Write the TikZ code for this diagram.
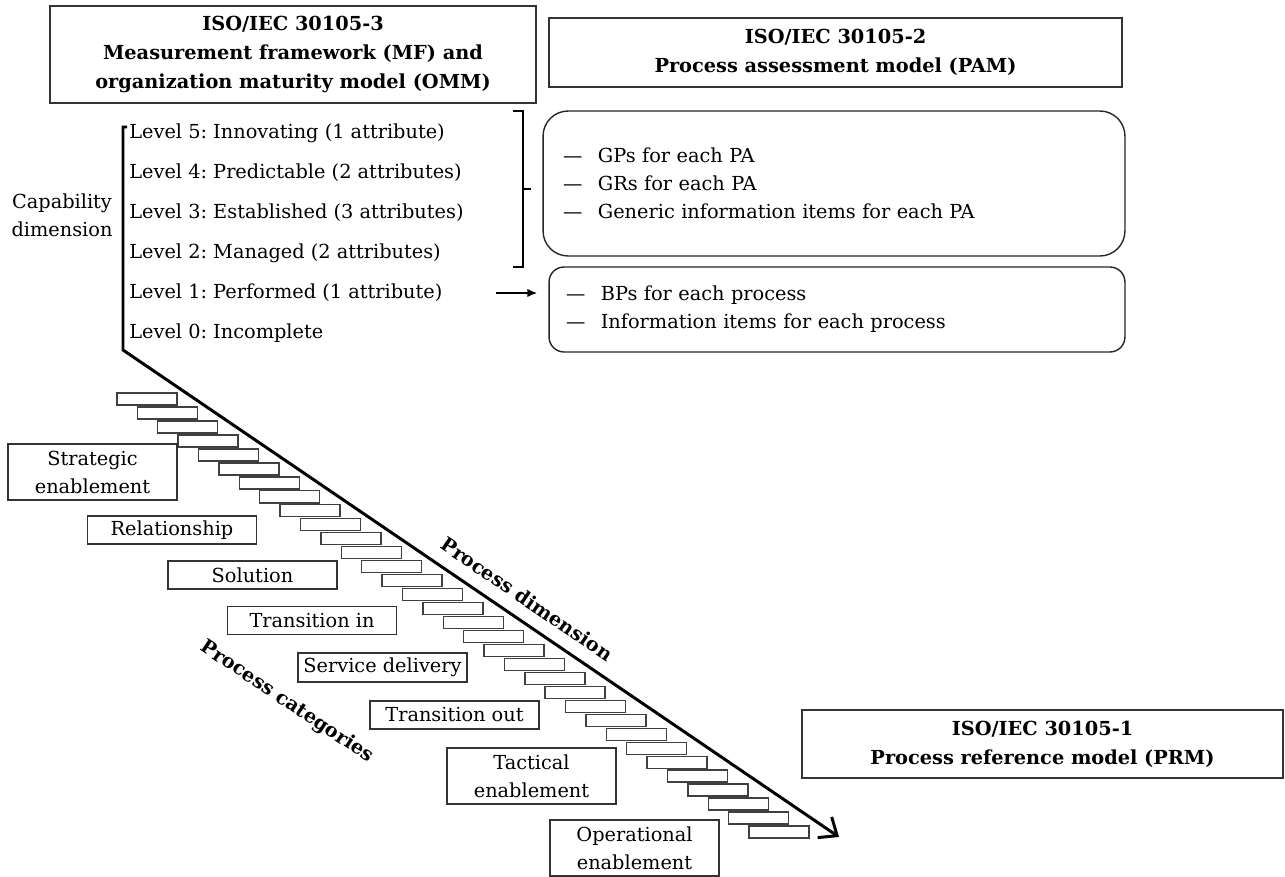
\documentclass[tikz,border=0pt]{standalone}
\usepackage{fontspec}
\setmainfont{DejaVu Serif}
\usetikzlibrary{arrows.meta}
\frenchspacing

\newcommand{\txtsize}{\fontsize{11}{15.9}\selectfont}
\newcommand{\ttlsize}{\fontsize{11}{16.7}\selectfont\bfseries}

\begin{document}
\begin{tikzpicture}[x = 0.02cm, y = -0.02cm,
	stdbox/.style = {draw=black!80, line width=0.8pt, inner sep=0pt, align=center, font=\ttlsize},
	pambox/.style = {draw=black!85, line width=0.8pt, inner ysep=0pt, align=left, font=\txtsize},
	catbox/.style = {draw=black!80, line width=0.8pt, inner sep=0pt, minimum width=3.38cm, align=center, font=\txtsize},
	lvl/.style = {anchor=west, inner sep=0pt, font=\txtsize},
	stair/.style = {draw=black!75, line width=0.8pt},
	axisline/.style = {line width=1.7pt},
	brk/.style = {line width=0.9pt}]
	\useasboundingbox (0,0) rectangle (1285,876);
	
	% standards
	\node[stdbox, minimum width=9.72cm, minimum height=1.94cm] (omm) at (293,54.5) {ISO/IEC 30105-3\\Measurement framework (MF) and\\organization maturity model (OMM)};
	\node[stdbox, minimum width=11.46cm, minimum height=1.38cm] (pam) at (835.5,52.5) {ISO/IEC 30105-2\\Process assessment model (PAM)};
	\node[stdbox, minimum width=9.62cm, minimum height=1.36cm] (prm) at (1042.5,744) {ISO/IEC 30105-1\\Process reference model (PRM)};
	
	% indicators
	\node[pambox, rounded corners=0.5cm, minimum height=2.9cm, inner xsep=0.4cm, text width=10.84cm] (generic) at (834,183.5)
		{\textemdash\hspace{0.8em}GPs for each PA\\\textemdash\hspace{0.8em}GRs for each PA\\\textemdash\hspace{0.8em}Generic information items for each PA};
	\node[pambox, rounded corners=0.3cm, minimum height=1.7cm, inner xsep=0.34cm, text width=10.84cm] (base) at (837,309.5)
		{\textemdash\hspace{0.8em}BPs for each process\\\textemdash\hspace{0.8em}Information items for each process};
	
	% capability levels
	\node[font=\txtsize, align=center, inner sep=0pt] (capdim) at (62,215) {Capability\\dimension};
	\foreach \lv/\txt [count=\i from 0] in {5/Innovating (1 attribute), 4/Predictable (2 attributes), 3/Established (3 attributes), 2/Managed (2 attributes), 1/Performed (1 attribute), 0/Incomplete}{
		\node[lvl] (lvl\lv) at (129,133+40*\i) {Level \lv: \txt};
	}
	
	% axes
	\coordinate (capend) at (127,127);
	\coordinate (captop) at (123,127);
	\coordinate (capbot) at (123,350);
	\coordinate (proctip) at (839,837);
	\draw[axisline, -{Straight Barb[length=0.3cm, width=0.5cm, line width=1.7pt]}] (capend) -- (captop) -- (capbot) -- (proctip);
	
	% bracket and arrow
	\draw[brk] (513,111) -- (523,111) -- (523,267) -- (513,267);
	\draw[brk] (523,189) -- (531,189);
	\coordinate (arrstart) at (496,293);
	\draw[line width=1.1pt, -{Latex[length=0.2cm, width=0.17cm]}, shorten >=0.22cm] (arrstart) -- (arrstart -| base.west);
	
	% processes
	\foreach \i in {0, ..., 31}{
		\draw[stair] ({117+20.39*\i},{393+13.97*\i}) rectangle ++(60,12);
	}
	
	% categories
	\node[catbox, minimum height=1.12cm] (strategic) at (92.5,472) {Strategic\\enablement};
	\node[catbox, minimum height=0.56cm] (relation) at (172,530) {Relationship};
	\node[catbox, minimum height=0.56cm] (solution) at (252.5,575) {Solution};
	\node[catbox, minimum height=0.56cm] (transin) at (312,620.5) {Transition in};
	\node[catbox, minimum height=0.58cm] (delivery) at (382.5,667.5) {Service delivery};
	\node[catbox, minimum height=0.56cm] (transout) at (454.5,715) {Transition out};
	\node[catbox, minimum height=1.12cm] (tactical) at (531.5,776) {Tactical\\enablement};
	\node[catbox, minimum height=1.12cm] (operational) at (634.5,848) {Operational\\enablement};
	
	\node[font=\ttlsize, rotate=-34.2] (procdim) at (527,599) {Process dimension};
	\node[font=\ttlsize, rotate=-33.8] (proccat) at (287,702) {Process categories};
\end{tikzpicture}
\end{document}
